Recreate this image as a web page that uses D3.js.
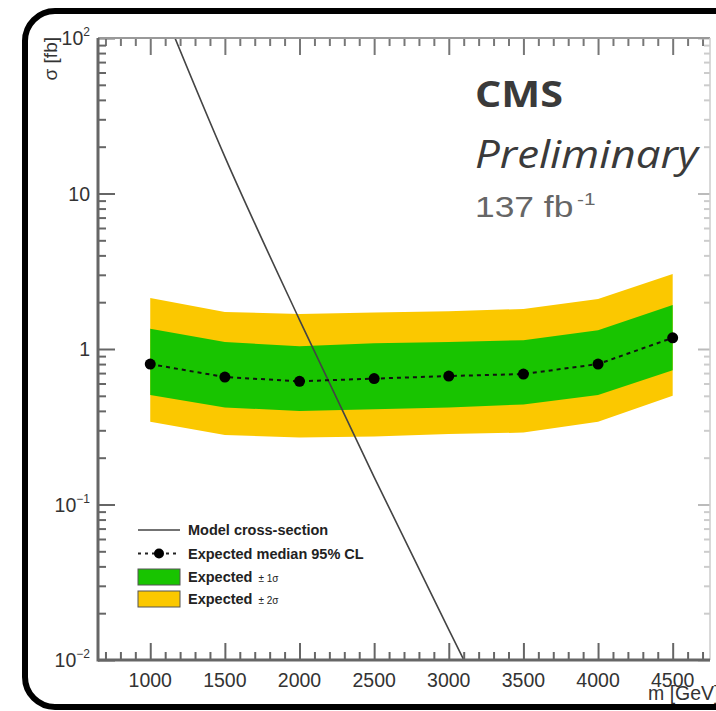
<!DOCTYPE html>
<html>
<head>
<meta charset="utf-8">
<script src="https://cdn.jsdelivr.net/npm/d3@7"></script>
<style>
  body { margin: 0; background: #fff; }
  svg { display: block; }
  .tick-label { font-family: "Liberation Sans", Arial, sans-serif; font-size: 19.5px; fill: #333; }
  .legend-text { font-family: "Liberation Sans", Arial, sans-serif; font-size: 14.5px; font-weight: bold; fill: #222; }
</style>
</head>
<body>
<script>
// mass points (GeV) and expected limits (fb)
var masses = [1000, 1500, 2000, 2500, 3000, 3500, 4000, 4500];
var expMedian = [0.80, 0.66, 0.62, 0.645, 0.67, 0.69, 0.80, 1.18];
var exp1Up = [1.35, 1.11, 1.04, 1.09, 1.11, 1.14, 1.32, 1.92];
var exp1Down = [0.506, 0.42, 0.40, 0.41, 0.42, 0.44, 0.506, 0.73];
var exp2Up = [2.13, 1.73, 1.68, 1.72, 1.75, 1.81, 2.10, 3.04];
var exp2Down = [0.34, 0.28, 0.27, 0.274, 0.284, 0.29, 0.34, 0.50];

// model cross-section curve
var modelMass = [1000, 1500, 2000, 2500, 3000, 3500];
var modelXsec = [245, 17.2, 1.54, 0.150, 0.0157, 0.00168];

// axis ticks
var xMajor = [1000, 1500, 2000, 2500, 3000, 3500, 4000, 4500];
var yMajor = [0.01, 0.1, 1, 10, 100];
var yLabelBase = ["10", "10", "1", "10", "10"];
var yLabelExp = ["\u22122", "\u22121", "", "", "2"];

var legendLabels = ["Model cross-section", "Expected median 95% CL", "Expected", "Expected"];

var svgWidth = 716;
var svgHeight = 711;

var margin = { top: 38, right: 6, bottom: 51, left: 98 };
var width = svgWidth - margin.left - margin.right;
var height = svgHeight - margin.top - margin.bottom;

var svg = d3.select("body")
  .append("svg")
  .attr("width", svgWidth)
  .attr("height", svgHeight);

// rounded black frame around everything
svg.append("rect")
  .attr("x", 25).attr("y", 11)
  .attr("width", 740).attr("height", 696)
  .attr("rx", 30).attr("ry", 30)
  .attr("fill", "none")
  .attr("stroke", "#000")
  .attr("stroke-width", 6);

var chartGroup = svg.append("g")
  .attr("transform", `translate(${margin.left}, ${margin.top})`);

var xScale = d3.scaleLinear().domain([650, 4750]).range([0, width]);
var yScale = d3.scaleLog().domain([0.01, 100]).range([height, 0]);

chartGroup.append("clipPath").attr("id", "plotclip")
  .append("rect").attr("width", width).attr("height", height);

// bands
var rows = masses.map(function(m, i) {
  return { m: m, med: expMedian[i], u1: exp1Up[i], d1: exp1Down[i], u2: exp2Up[i], d2: exp2Down[i] };
});

var band2 = d3.area().x(d => xScale(d.m)).y0(d => yScale(d.d2)).y1(d => yScale(d.u2));
var band1 = d3.area().x(d => xScale(d.m)).y0(d => yScale(d.d1)).y1(d => yScale(d.u1));

chartGroup.append("path").datum(rows).attr("d", band2).attr("fill", "#fbc800");
chartGroup.append("path").datum(rows).attr("d", band1).attr("fill", "#18c400");

// model line
var modelData = modelMass.map(function(m, i) { return { m: m, s: modelXsec[i] }; });
chartGroup.append("path")
  .datum(modelData)
  .attr("clip-path", "url(#plotclip)")
  .attr("d", d3.line().x(d => xScale(d.m)).y(d => yScale(d.s)).curve(d3.curveMonotoneX))
  .attr("fill", "none")
  .attr("stroke", "#444")
  .attr("stroke-width", 1.6);

// median expected
chartGroup.append("path")
  .datum(rows)
  .attr("d", d3.line().x(d => xScale(d.m)).y(d => yScale(d.med)))
  .attr("fill", "none")
  .attr("stroke", "#111")
  .attr("stroke-width", 2)
  .attr("stroke-dasharray", "4,4");

chartGroup.selectAll("circle.med")
  .data(rows)
  .enter()
  .append("circle")
  .attr("class", "med")
  .attr("cx", d => xScale(d.m))
  .attr("cy", d => yScale(d.med))
  .attr("r", 5.5)
  .attr("fill", "#000");

// minor tick values
var xMinor = d3.range(700, 4750, 100).filter(v => v % 500 !== 0);
var yMinor = [];
[0.01, 0.1, 1, 10].forEach(function(dec) {
  for (var k = 2; k <= 9; k++) yMinor.push(dec * k);
});

function tickAxis(axisFn, scale, vals, size) {
  return axisFn(scale).tickValues(vals).tickSize(size).tickFormat("");
}

function styleAxis(g, color) {
  g.select(".domain").remove();
  g.selectAll(".tick line").attr("stroke", color).attr("stroke-width", 2);
}

// bottom
chartGroup.append("g").attr("transform", `translate(0, ${height})`)
  .call(tickAxis(d3.axisTop, xScale, xMajor, 17)).call(styleAxis, "#666");
chartGroup.append("g").attr("transform", `translate(0, ${height})`)
  .call(tickAxis(d3.axisTop, xScale, xMinor, 8)).call(styleAxis, "#666");
// top
chartGroup.append("g")
  .call(tickAxis(d3.axisBottom, xScale, xMajor, 17)).call(styleAxis, "#777");
chartGroup.append("g")
  .call(tickAxis(d3.axisBottom, xScale, xMinor, 8)).call(styleAxis, "#777");
// left
chartGroup.append("g")
  .call(tickAxis(d3.axisRight, yScale, yMajor, 17)).call(styleAxis, "#666");
chartGroup.append("g")
  .call(tickAxis(d3.axisRight, yScale, yMinor, 8)).call(styleAxis, "#666");
// right
chartGroup.append("g").attr("transform", `translate(${width}, 0)`)
  .call(tickAxis(d3.axisLeft, yScale, yMajor, 12)).call(styleAxis, "#bbb");
chartGroup.append("g").attr("transform", `translate(${width}, 0)`)
  .call(tickAxis(d3.axisLeft, yScale, yMinor, 6)).call(styleAxis, "#ccc");

// frame lines
chartGroup.append("line").attr("x1", 0).attr("x2", width).attr("y1", 0).attr("y2", 0)
  .attr("stroke", "#999").attr("stroke-width", 2);
chartGroup.append("line").attr("x1", width).attr("x2", width).attr("y1", 0).attr("y2", height)
  .attr("stroke", "#ccc").attr("stroke-width", 1.5);
chartGroup.append("line").attr("x1", 0).attr("x2", 0).attr("y1", 0).attr("y2", height + 1.5)
  .attr("stroke", "#666").attr("stroke-width", 3);
chartGroup.append("line").attr("x1", 0).attr("x2", width).attr("y1", height).attr("y2", height)
  .attr("stroke", "#666").attr("stroke-width", 3);

// x tick labels
chartGroup.selectAll("text.xlab")
  .data(xMajor)
  .enter()
  .append("text")
  .attr("class", "tick-label")
  .attr("x", d => xScale(d))
  .attr("y", height + 27)
  .attr("text-anchor", "middle")
  .text(d => d);

// y tick labels
yMajor.forEach(function(v, i) {
  var t = chartGroup.append("text")
    .attr("class", "tick-label")
    .attr("x", -8)
    .attr("y", yScale(v) + 7)
    .attr("text-anchor", "end");
  t.append("tspan").text(yLabelBase[i]);
  if (yLabelExp[i]) {
    t.append("tspan").attr("dy", -9).style("font-size", "12px").text(yLabelExp[i]);
  }
});

// axis titles
svg.append("text")
  .attr("class", "tick-label")
  .attr("transform", "translate(57, 37) rotate(-90)")
  .attr("text-anchor", "end")
  .style("font-size", "19px")
  .text("\u03c3 [fb]");

svg.append("text")
  .attr("class", "tick-label")
  .attr("x", 648)
  .attr("y", 700)
  .text("m [GeV]");

// CMS labels
svg.append("text")
  .attr("x", 475).attr("y", 107)
  .attr("textLength", 88)
  .attr("lengthAdjust", "spacingAndGlyphs")
  .style("font-family", "'Open Sans', sans-serif")
  .style("font-weight", "bold")
  .style("font-size", "35px")
  .attr("fill", "#3a3a3a")
  .text("CMS");

svg.append("text")
  .attr("x", 475).attr("y", 168)
  .attr("textLength", 223)
  .attr("lengthAdjust", "spacingAndGlyphs")
  .style("font-family", "'Open Sans', sans-serif")
  .style("font-style", "italic")
  .style("font-size", "39px")
  .attr("fill", "#3a3a3a")
  .text("Preliminary");

var lumi = svg.append("text")
  .attr("transform", "translate(475, 217) scale(1.22, 1)")
  .style("font-family", "'Liberation Sans', Arial, sans-serif")
  .style("font-size", "29px")
  .attr("fill", "#666");
lumi.append("tspan").text("137 fb");
lumi.append("tspan").attr("dx", 3).attr("dy", -12).style("font-size", "17px").text("-1");

// legend
var legend = svg.append("g").attr("transform", "translate(138, 530)");
var rowY = [0, 23.5, 47, 69];

legend.append("line").attr("x1", 0).attr("x2", 42).attr("y1", rowY[0]).attr("y2", rowY[0])
  .attr("stroke", "#444").attr("stroke-width", 1.5);

legend.append("line").attr("x1", 0).attr("x2", 42).attr("y1", rowY[1]).attr("y2", rowY[1])
  .attr("stroke", "#222").attr("stroke-width", 2).attr("stroke-dasharray", "3,4");
legend.append("circle").attr("cx", 21).attr("cy", rowY[1]).attr("r", 5).attr("fill", "#000");

legend.append("rect").attr("x", 0).attr("y", rowY[2] - 8).attr("width", 42).attr("height", 16)
  .attr("fill", "#18c400").attr("stroke", "#555").attr("stroke-width", 1);
legend.append("rect").attr("x", 0).attr("y", rowY[3] - 8).attr("width", 42).attr("height", 16)
  .attr("fill", "#fbc800").attr("stroke", "#555").attr("stroke-width", 1);

legendLabels.forEach(function(lab, i) {
  var t = legend.append("text")
    .attr("class", "legend-text")
    .attr("x", 50)
    .attr("y", rowY[i] + 5)
    .text(lab);
  if (i >= 2) {
    t.append("tspan").attr("dx", 6).style("font-size", "10px").style("font-weight", "normal")
      .text(i === 2 ? "\u00b1 1\u03c3" : "\u00b1 2\u03c3");
  }
});
</script>
</body>
</html>
